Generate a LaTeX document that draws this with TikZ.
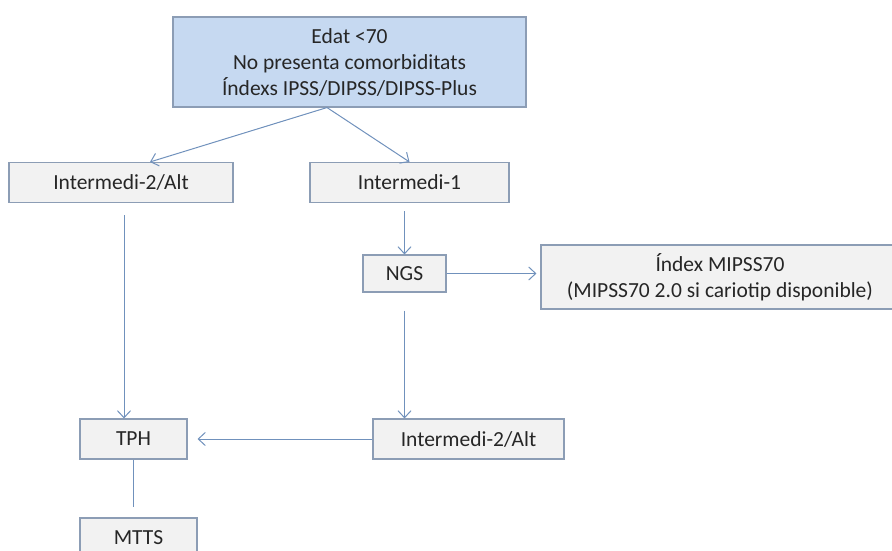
\documentclass[tikz,border=0pt]{standalone}
\usepackage{fontspec}
\setmainfont{Carlito}
\usepackage{tikz}
\usetikzlibrary{positioning,arrows.meta}
\definecolor{linkblue}{HTML}{7091BC}
\definecolor{boxedge}{HTML}{8C9DB5}
\definecolor{boxgray}{HTML}{F2F2F2}
\definecolor{topblue}{HTML}{C6D9F1}

\begin{document}
\begin{tikzpicture}[x=1pt,y=-1pt,
        box/.style={rectangle,draw=boxedge,fill=boxgray,line width=1.1pt,
                    minimum height=40pt,inner sep=0pt,align=center,
                    text=black!85,font=\fontsize{21.5}{26}\selectfont},
        topbox/.style={box,fill=topblue,minimum width=353pt,minimum height=90pt},
        arr/.style={draw=linkblue,line width=1pt,
                    -{Straight Barb[length=7pt,width=13pt]}},
        link/.style={draw=linkblue,line width=1pt}]
        \clip (0,0) rectangle (892,550);
        \node[topbox] (edat) at (349.5,62)
          {Edat <70\\No presenta comorbiditats\\Índexs IPSS/DIPSS/DIPSS-Plus};
        \node[box,minimum width=224pt] (alt1) at (121,182.5) {Intermedi-2/Alt};
        \node[box,minimum width=199pt] (int1) at (409.5,182.5) {Intermedi-1};
        \node[box,minimum width=83pt,minimum height=37pt] (ngs) at (404.5,273.5) {NGS};
        \node[box,minimum width=358pt,minimum height=64pt] (mipss) at (720,277)
          {Índex MIPSS70\\(MIPSS70 2.0 si cariotip disponible)};
        \node[box,minimum width=107pt] (tph) at (133.5,439) {TPH};
        \node[box,minimum width=191pt] (alt2) at (468.5,439) {Intermedi-2/Alt};
        \node[box,minimum width=117pt] (mtts) at (138.5,538) {MTTS};
        % split from the top box
        \coordinate (fork) at ([xshift=-22.5pt]edat.south);
        \draw[arr] (fork) -- ([xshift=29pt]alt1.north);
        \draw[arr] (fork) -- (int1.north);
        % left branch
        \draw[arr,shorten <=12pt] ([xshift=3pt]alt1.south) -- ([xshift=-9.5pt]tph.north);
        \draw[link,shorten >=10pt] (tph.south) -- (tph.south |- mtts.north);
        % right branch
        \draw[arr,shorten <=8pt] (ngs.north |- int1.south) -- (ngs.north);
        \draw[arr,shorten >=4pt] (ngs.east) -- (ngs.east -| mipss.west);
        \draw[arr,shorten <=18pt] (ngs.south) -- (ngs.south |- alt2.north);
        \draw[arr,shorten >=10pt] (alt2.west) -- (tph.east);
      \end{tikzpicture}
\end{document}
